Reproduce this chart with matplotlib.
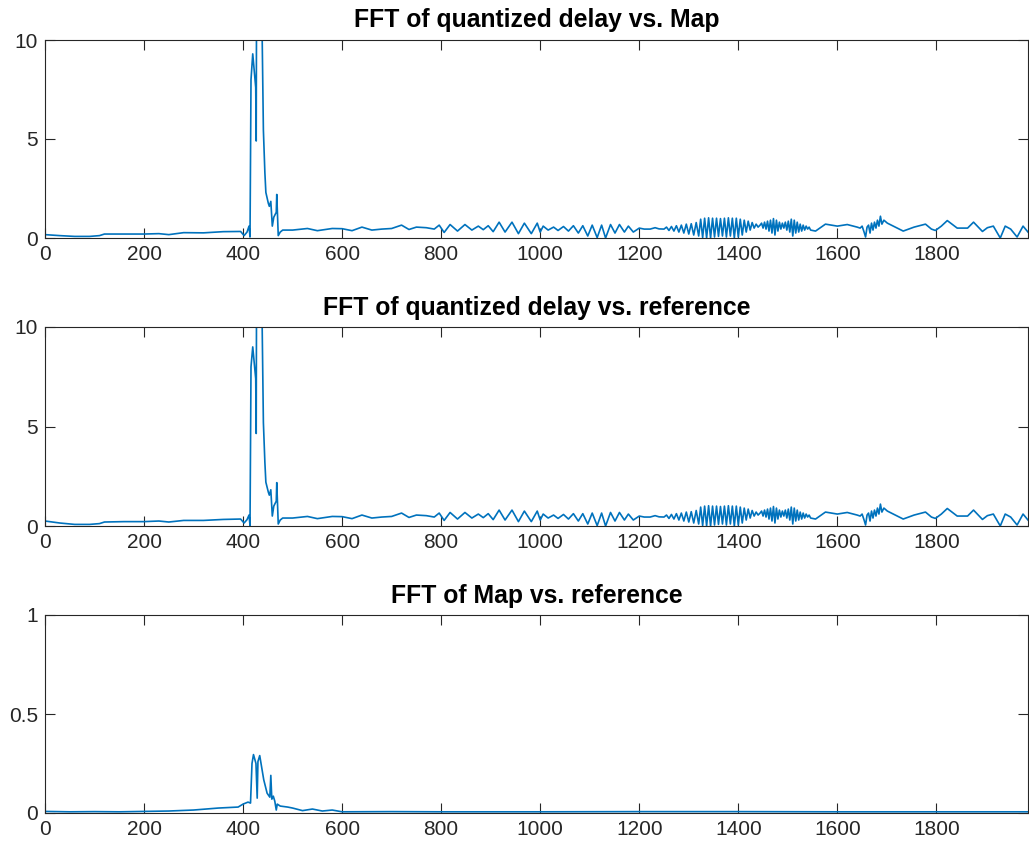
import matplotlib
matplotlib.use('Agg')
import matplotlib.pyplot as plt

# ---- data ----
# spike region, quantized delay vs. Map
head_map_x = [0, 30, 60, 90, 110, 120, 160, 200, 230, 250, 280, 320, 360, 395, 402, 408, 412,
              414, 416, 419.5, 425.5, 426.5, 427.5, 436, 441, 444, 446, 451, 453, 456, 459, 462,
              467, 468, 471, 475]
head_map_y = [0.17, 0.12, 0.08, 0.08, 0.12, 0.2, 0.2, 0.2, 0.22, 0.17, 0.27, 0.26, 0.32, 0.33, 0.12,
              0.3, 0.6, 0.05, 8.0, 9.3, 7.6, 4.9, 15, 15, 5.45, 3.3, 2.3, 1.75, 1.6, 1.85, 0.6,
              1.05, 1.3, 2.2, 0.12, 0.3]

# spike region, quantized delay vs. reference
head_ref_x = head_map_x
head_ref_y = [0.25, 0.15, 0.08, 0.08, 0.12, 0.2, 0.22, 0.22, 0.25, 0.2, 0.28, 0.28, 0.33, 0.35, 0.15,
              0.32, 0.55, 0.02, 8.0, 9.0, 7.4, 4.65, 15, 15, 5.2, 3.2, 2.2, 1.7, 1.55, 1.82, 0.5,
              1.0, 1.25, 2.18, 0.1, 0.3]

# ripple part, same in both top panels
tail_x = [480, 500, 530, 550, 580, 600, 620, 640, 660, 680, 700, 720, 735, 750, 770, 786, 796,
          806, 818, 833, 848, 862, 875, 885, 895, 905, 917, 929, 943, 956, 968, 982, 994,
          1000, 1006, 1016, 1027, 1036, 1047, 1057, 1067, 1077, 1086, 1096, 1105, 1115, 1124,
          1132, 1142, 1151, 1160, 1170, 1178, 1188, 1200, 1210, 1222, 1232, 1240, 1250,
          1255, 1260, 1265, 1270, 1275, 1280, 1285, 1290, 1295, 1300, 1305, 1310, 1315, 1320,
          1324, 1328, 1332, 1336, 1340, 1344, 1348, 1352, 1356, 1360, 1364, 1368, 1372, 1376,
          1380, 1384, 1388, 1392, 1396, 1400, 1404, 1408, 1412, 1416, 1420, 1424, 1428, 1432,
          1436, 1440, 1444, 1447, 1450, 1453, 1456, 1459, 1462, 1465, 1468, 1471, 1474, 1477,
          1480, 1483, 1486, 1489, 1492, 1495, 1498, 1501, 1504, 1507, 1510, 1513, 1516, 1519,
          1522, 1525, 1528, 1531, 1534, 1537, 1540, 1543, 1546, 1556, 1576, 1600, 1620, 1640,
          1646, 1650, 1654, 1657, 1660, 1663, 1666, 1669, 1672, 1675, 1678, 1681, 1684, 1687,
          1690, 1694, 1701, 1721, 1733, 1755, 1778, 1790, 1798, 1810, 1822, 1842, 1863, 1875,
          1893, 1903, 1915, 1929, 1939, 1950, 1963, 1975, 1985]
tail_y = [0.4, 0.4, 0.48, 0.37, 0.48, 0.47, 0.37, 0.55, 0.4, 0.45, 0.48, 0.65, 0.43, 0.55, 0.52,
          0.45, 0.65, 0.28, 0.68, 0.35, 0.68, 0.4, 0.6, 0.42, 0.62, 0.32, 0.8, 0.3, 0.8, 0.22,
          0.75, 0.22, 0.75, 0.3, 0.6, 0.4, 0.55, 0.38, 0.58, 0.35, 0.62, 0.25, 0.62, 0.1, 0.65,
          0.02, 0.65, 0.0, 0.68, 0.25, 0.68, 0.3, 0.6, 0.3, 0.5, 0.45, 0.45, 0.52, 0.46, 0.45,
          0.55, 0.38, 0.58, 0.35, 0.62, 0.3, 0.65, 0.25, 0.7, 0.2, 0.72, 0.15, 0.78, 0.1,
          0.95, 0.02, 1.0, 0.0, 1.02, 0.0, 1.0, 0.05, 1.0, 0.08, 0.98, 0.1, 1.0, 0.05,
          1.02, 0.1, 1.0, 0.0, 1.0, 0.05, 0.95, 0.15, 0.9, 0.3, 0.85, 0.4, 0.78, 0.5,
          0.7, 0.55, 0.65, 0.75, 0.5, 0.8, 0.45, 0.85, 0.35, 0.9, 0.25, 0.98, 0.15, 0.9,
          0.35, 0.8, 0.45, 0.75, 0.5, 0.8, 0.4, 0.85, 0.3, 0.95, 0.1, 0.9, 0.25, 0.8,
          0.3, 0.7, 0.35, 0.65, 0.4, 0.6, 0.45, 0.55, 0.4, 0.35, 0.7, 0.6, 0.68, 0.55,
          0.5, 0.6, 0.3, 0.05, 0.55, 0.65, 0.25, 0.75, 0.4, 0.8, 0.5, 0.9, 0.6, 1.1,
          0.7, 0.9, 0.75, 0.5, 0.35, 0.55, 0.7, 0.45, 0.38, 0.6, 0.88, 0.5, 0.5, 0.8,
          0.33, 0.52, 0.6, 0.0, 0.6, 0.45, 0.05, 0.6, 0.3]

# FFT of Map vs. reference
map_ref_x = [0, 50, 100, 150, 200, 250, 300, 350, 390, 400, 410, 415, 418, 421, 426, 428.5, 430,
             433.6, 441.7, 448.5, 454, 456, 458, 461, 464, 467, 469, 475, 490, 500, 520, 540,
             560, 580, 600, 700, 800, 1000, 1200, 1400, 1600, 1800, 1985]
map_ref_y = [0.008, 0.006, 0.007, 0.006, 0.008, 0.01, 0.015, 0.025, 0.03, 0.045, 0.055, 0.05,
             0.25, 0.295, 0.25, 0.075, 0.26, 0.29, 0.168, 0.1, 0.08, 0.19, 0.07, 0.085, 0.06,
             0.015, 0.045, 0.035, 0.03, 0.025, 0.012, 0.02, 0.01, 0.015, 0.006, 0.007, 0.006,
             0.006, 0.007, 0.007, 0.006, 0.006, 0.006]

titles = ['FFT of quantized delay vs. Map',
          'FFT of quantized delay vs. reference',
          'FFT of Map vs. reference']

plt.rcParams['font.family'] = ['Liberation Sans', 'DejaVu Sans']

fig = plt.figure(figsize=(10.29, 8.48), dpi=100)
W = 1029.0
H = 848.0
boxes = [(40, 238), (327, 526), (615, 813)]
series = [(head_map_x + tail_x, head_map_y + tail_y),
          (head_ref_x + tail_x, head_ref_y + tail_y),
          (map_ref_x, map_ref_y)]
ink = '#262626'

for i in range(3):
    top, bot = boxes[i]
    ax = fig.add_axes([45 / W, 1 - bot / H, (1028 - 45) / W, (bot - top) / H])
    x, y = series[i]
    ax.plot(x, y, color='#0072BD', lw=1.2)
    ax.set_xlim(0, 1985)
    ax.set_xticks(range(0, 2000, 200))
    if i < 2:
        ax.set_ylim(0, 10)
        ax.set_yticks([0, 5, 10])
        ax.set_yticklabels(['0', '5', '10'])
    else:
        ax.set_ylim(0, 1)
        ax.set_yticks([0, 0.5, 1])
        ax.set_yticklabels(['0', '0.5', '1'])
    ax.tick_params(direction='in', top=True, right=True, length=7, width=0.8,
                   colors=ink, labelcolor=ink, labelsize=15)
    ax.tick_params(axis='x', pad=5)
    ax.tick_params(axis='y', pad=5)
    for s in ax.spines.values():
        s.set_color(ink)
        s.set_linewidth(0.8)
    ax.set_title(titles[i], fontsize=17.8, fontweight='bold', pad=9)

fig.savefig('out.png', dpi=100)
